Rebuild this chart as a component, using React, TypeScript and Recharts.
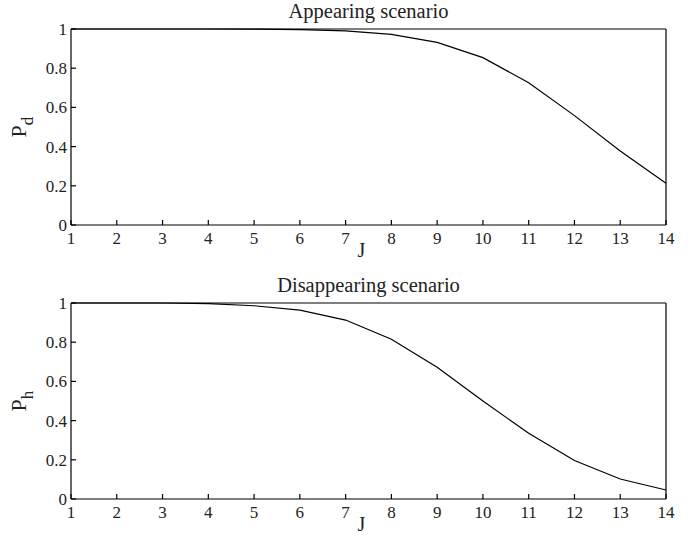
import React from 'react';
import { LineChart, Line, XAxis, YAxis } from 'recharts';

const jValues = [1, 2, 3, 4, 5, 6, 7, 8, 9, 10, 11, 12, 13, 14];
const pdValues = [1.0, 1.0, 1.0, 1.0, 0.999, 0.997, 0.99, 0.973, 0.932, 0.854, 0.726, 0.558, 0.378, 0.213];
const phValues = [1.0, 1.0, 1.0, 0.997, 0.986, 0.964, 0.913, 0.815, 0.672, 0.5, 0.335, 0.196, 0.102, 0.046];
const xTicks = [1, 2, 3, 4, 5, 6, 7, 8, 9, 10, 11, 12, 13, 14];
const yTicks = [0, 0.2, 0.4, 0.6, 0.8, 1];

const dataTop = jValues.map((j, i) => ({ j, v: pdValues[i] }));
const dataBottom = jValues.map((j, i) => ({ j, v: phValues[i] }));

const FONT = '"Liberation Serif", "Times New Roman", serif';
const TEXT_FILL = '#222';

const XTick = (props: any) => {
  const { x, y, payload } = props;
  return (
    <text x={x} y={y} dy="0.71em" textAnchor="middle" fontFamily={FONT} fontSize={17} fill={TEXT_FILL}>
      {String(payload.value)}
    </text>
  );
};

const YTick = (props: any) => {
  const { x, y, payload } = props;
  return (
    <text x={x} y={y} dy="0.355em" textAnchor="end" fontFamily={FONT} fontSize={17} fill={TEXT_FILL}>
      {String(payload.value)}
    </text>
  );
};

const YLabel = (sub: string) => (props: any) => {
  const vb = props.viewBox || {};
  const cx = 26;
  const cy = vb.y + vb.height / 2;
  return (
    <text
      x={cx}
      y={cy}
      transform={`rotate(-90, ${cx}, ${cy})`}
      textAnchor="middle"
      fontFamily={FONT}
      fontSize={22}
      fill={TEXT_FILL}
    >
      P
      <tspan fontSize={17} dy={7}>{sub}</tspan>
    </text>
  );
};

const TitleLabel = (title: string) => (props: any) => {
  const vb = props.viewBox || {};
  const cx = vb.x + vb.width / 2;
  return (
    <text x={cx} y={vb.y - 10} textAnchor="middle" fontFamily={FONT} fontSize={20.5} fill={TEXT_FILL}>
      {title}
    </text>
  );
};

const JLabel = (props: any) => {
  const vb = props.viewBox || {};
  const cx = vb.x + vb.width / 2 - 7;
  return (
    <text x={cx} y={vb.y + vb.height + 2} textAnchor="middle" fontFamily={FONT} fontSize={20} fill={TEXT_FILL}>
      J
    </text>
  );
};

function Panel({ data, title, sub, mTop, mBottom }: any) {
  return (
    <LineChart
      width={694}
      height={271}
      data={data}
      margin={{ top: mTop, right: 27, bottom: mBottom, left: 0 }}
      style={{ fontFamily: FONT }}
    >
      <XAxis
        dataKey="j"
        type="number"
        domain={[1, 14]}
        ticks={xTicks}
        interval={0}
        tickSize={-5}
        tickMargin={12}
        height={30}
        stroke="#000"
        strokeWidth={1.2}
        tick={XTick}
        label={{ content: JLabel }}
      />
      <XAxis
        xAxisId="top"
        dataKey="j"
        type="number"
        orientation="top"
        domain={[1, 14]}
        ticks={xTicks}
        interval={0}
        tickSize={-5}
        height={1}
        stroke="#000"
        strokeWidth={1.2}
        tick={false}
        label={{ content: TitleLabel(title) }}
      />
      <YAxis
        domain={[0, 1]}
        ticks={yTicks}
        interval={0}
        tickSize={-5}
        tickMargin={9}
        width={71}
        stroke="#000"
        strokeWidth={1.2}
        tick={YTick}
        label={{ content: YLabel(sub) }}
      />
      <YAxis
        yAxisId="right"
        orientation="right"
        domain={[0, 1]}
        ticks={yTicks}
        interval={0}
        tickSize={-5}
        width={1}
        stroke="#000"
        strokeWidth={1.2}
        tick={false}
      />
      <Line
        type="linear"
        dataKey="v"
        stroke="#000"
        strokeWidth={1.2}
        dot={false}
        isAnimationActive={false}
      />
    </LineChart>
  );
}

export default function App() {
  return (
    <div
      style={{
        position: 'absolute',
        left: 0,
        top: 0,
        width: 694,
        height: 542,
        background: '#fff',
        fontFamily: FONT,
      }}
    >
      <Panel data={dataTop} title="Appearing scenario" sub="d" mTop={28} mBottom={16} />
      <Panel data={dataBottom} title="Disappearing scenario" sub="h" mTop={31} mBottom={13} />
    </div>
  );
}
